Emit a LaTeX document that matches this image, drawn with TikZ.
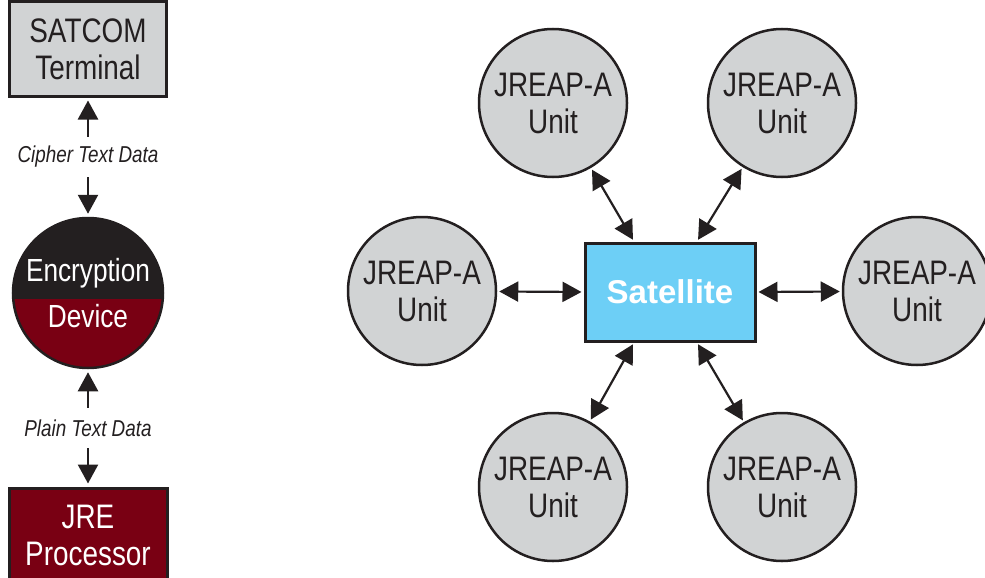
\documentclass[tikz,border=0pt]{standalone}
\usepackage{fontspec}
\setmainfont{Liberation Sans}
\newfontfamily\cf{Liberation Sans}[FakeStretch=0.82]
\usetikzlibrary{arrows.meta}
\definecolor{gfill}{HTML}{D1D3D4}
\definecolor{edge}{HTML}{231F20}
\definecolor{dred}{HTML}{790013}
\definecolor{sky}{HTML}{6DCFF6}
\begin{document}
\begin{tikzpicture}[x=1pt,y=-1pt,
  >={Triangle[length=19pt,width=20pt]},
  unit/.style={circle,draw=edge,line width=2.5pt,fill=gfill,minimum size=148pt,inner sep=0pt,align=center,
    font=\cf\fontsize{34}{37}\selectfont,text=edge},
  boxnode/.style={rectangle,draw=edge,line width=3pt,inner sep=0pt,align=center,
    font=\cf\fontsize{34}{37}\selectfont},
  lbl/.style={inner sep=0pt,minimum height=40pt,text=edge,font=\cf\itshape\fontsize{23}{26}\selectfont},
  link/.style={draw=edge,line width=2.2pt,<->,shorten <=2pt,shorten >=2pt},
  varrow/.style={draw=edge,line width=2.4pt,->,shorten >=3pt}
]
\useasboundingbox (0,0) rectangle (985,578);

% left column
\node[boxnode,fill=gfill,text=edge,minimum width=157pt,minimum height=94pt] (satcom) at (88,49) {SATCOM\\Terminal};
\node[lbl] (ct) at (88,157) {Cipher Text Data};
\node[circle,draw=edge,line width=2.5pt,minimum size=150pt,inner sep=0pt,align=center,text=white,
  font=\cf\fontsize{32}{37}\selectfont,
  path picture={
    \fill[edge] (path picture bounding box.north west) rectangle ([yshift=-6pt]path picture bounding box.east);
    \fill[dred] ([yshift=-6pt]path picture bounding box.west) rectangle (path picture bounding box.south east);
  }] (enc) at (88,293) {Encryption\\[9pt]Device};
\node[lbl] (pt) at (88,428) {Plain Text Data};
\node[boxnode,fill=dred,text=white,minimum width=158pt,minimum height=94pt] (jre) at (88,535) {JRE\\Processor};

\draw[varrow] (ct) -- (satcom);
\draw[varrow] (ct) -- (enc);
\draw[varrow] (pt) -- (enc);
\draw[varrow] (pt) -- (jre);

% right network
\node[rectangle,draw=edge,line width=3pt,fill=sky,minimum width=170pt,minimum height=98pt,inner sep=0pt,
  text=white,font=\bfseries\fontsize{33}{38}\selectfont] (sat) at (670,292) {Satellite};

\node[unit] (c1) at (553,103) {JREAP-A\\Unit};
\node[unit] (c2) at (782,103) {JREAP-A\\Unit};
\node[unit] (c3) at (422,291) {JREAP-A\\Unit};
\node[unit] (c4) at (917,291) {JREAP-A\\Unit};
\node[unit] (c5) at (553,487) {JREAP-A\\Unit};
\node[unit] (c6) at (782,487) {JREAP-A\\Unit};

\draw[link] ([xshift=-36pt]sat.north) -- (c1);
\draw[link] ([xshift=27pt]sat.north) -- (c2);
\draw[link] (sat.west) -- (c3);
\draw[link] (sat.east) -- (c4);
\draw[link] ([xshift=-36pt]sat.south) -- (c5);
\draw[link] ([xshift=27pt]sat.south) -- (c6);
\end{tikzpicture}
\end{document}
